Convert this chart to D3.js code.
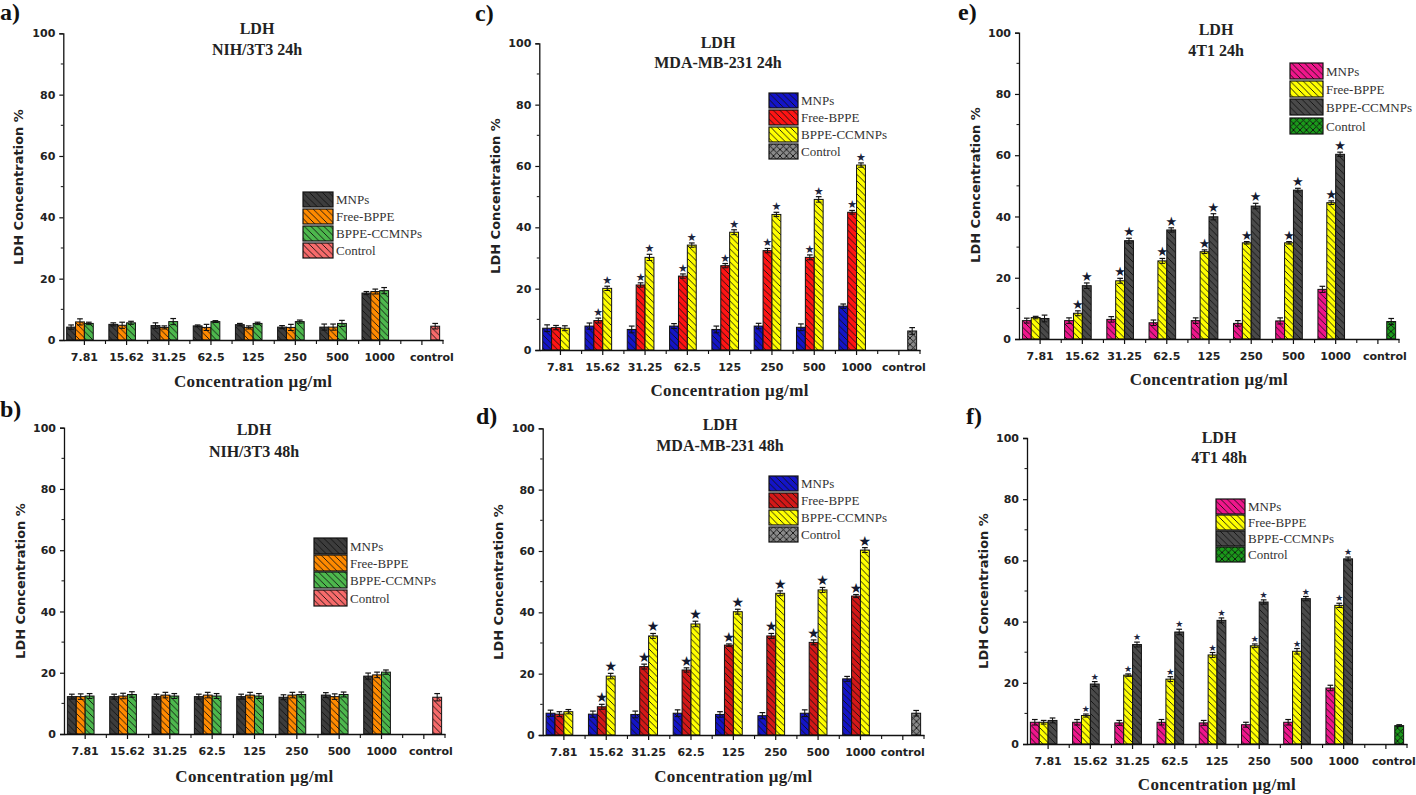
<!DOCTYPE html>
<html><head><meta charset="utf-8">
<script src="https://cdn.jsdelivr.net/npm/d3@7"></script>
<style>body{margin:0;background:#fff}svg{display:block}</style>
</head><body>
<svg id="chart" width="1416" height="795"></svg>
<script>
// ---------- data ----------
const categories = ["7.81","15.62","31.25","62.5","125","250","500","1000","control"];
const seriesNames = ["MNPs","Free-BPPE","BPPE-CCMNPs","Control"];
const yTicks = [0,20,40,60,80,100];
const yMinorTicks = [10,30,50,70,90];
const starCategories = ["15.62","31.25","62.5","125","250","500","1000"];

const a_MNPs = [4.2,5.1,4.7,4.6,5.0,4.2,4.2,15.3];
const a_Free = [5.9,4.8,4.1,4.1,4.1,4.1,4.2,15.8];
const a_BPPE = [5.4,5.6,6.0,6.0,5.4,6.0,5.4,16.1];
const a_Control = [4.5];
const a_MNPs_err = [0.7,0.5,0.9,0.3,0.4,0.5,1.0,0.5];
const a_Free_err = [1.0,1.0,0.5,1.0,0.5,1.0,1.0,0.8];
const a_BPPE_err = [0.4,0.5,1.0,0.3,0.4,0.5,1.0,1.0];
const a_Control_err = [0.9];

const b_MNPs = [12.2,12.2,12.2,12.2,12.2,12.0,12.7,18.9];
const b_Free = [12.2,12.4,12.7,12.7,12.7,12.7,12.2,19.3];
const b_BPPE = [12.4,12.9,12.4,12.4,12.4,12.9,12.9,20.2];
const b_Control = [12.0];
const b_MNPs_err = [0.8,0.8,0.8,0.8,0.8,0.8,0.8,1.0];
const b_Free_err = [0.9,0.9,0.9,0.9,0.9,0.9,0.9,0.9];
const b_BPPE_err = [0.8,0.9,0.8,0.8,0.8,0.8,0.8,0.7];
const b_Control_err = [1.2];

const c_MNPs = [7.1,7.8,6.7,7.8,6.7,7.8,7.4,14.3];
const c_Free = [7.3,9.6,21.2,24.1,27.5,32.4,30.2,44.9];
const c_BPPE = [7.1,20.1,30.2,34.2,38.4,44.2,49.1,60.3];
const c_Control = [6.2];
const c_MNPs_err = [1.1,1.0,1.1,0.8,1.1,0.9,1.1,0.7];
const c_Free_err = [0.7,0.8,0.7,0.7,0.7,0.7,0.8,0.6];
const c_BPPE_err = [0.8,0.7,1.0,0.7,0.8,0.7,0.9,0.7];
const c_Control_err = [1.1];

const d_MNPs = [7.1,6.8,6.7,7.1,6.7,6.3,7.1,18.3];
const d_Free = [6.8,9.2,22.3,21.2,29.3,32.3,30.2,45.3];
const d_BPPE = [7.6,19.2,32.3,36.2,40.2,46.2,47.3,60.3];
const d_Control = [7.1];
const d_MNPs_err = [1.0,1.0,1.1,1.1,0.9,1.0,1.1,0.8];
const d_Free_err = [0.8,0.8,0.8,0.7,0.4,0.8,0.8,0.5];
const d_BPPE_err = [0.7,0.9,0.8,0.9,0.8,0.8,0.8,0.8];
const d_Control_err = [0.9];

const e_MNPs = [6.0,6.0,6.4,5.3,6.0,5.1,5.9,16.2];
const e_Free = [7.0,8.4,19.0,25.5,28.5,31.4,31.4,44.5];
const e_BPPE = [6.7,17.4,32.1,35.6,39.9,43.4,48.6,60.3];
const e_Control = [5.7];
const e_MNPs_err = [0.8,0.9,0.9,0.9,0.9,0.9,1.0,1.0];
const e_Free_err = [0.4,0.8,0.8,0.8,0.6,0.4,0.4,0.6];
const e_BPPE_err = [1.1,0.9,0.8,0.7,1.0,0.9,0.6,0.7];
const e_Control_err = [1.0];

const f_MNPs = [7.1,7.1,6.9,7.1,6.9,6.3,7.1,18.3];
const f_Free = [7.1,9.3,22.5,21.2,29.1,32.1,30.3,45.3];
const f_BPPE = [7.7,19.6,32.5,36.6,40.4,46.4,47.5,60.5];
const f_Control = [6.0];
const f_MNPs_err = [0.9,0.9,0.8,0.9,0.8,0.8,0.9,0.9];
const f_Free_err = [0.6,0.5,0.4,0.8,0.8,0.6,0.9,0.7];
const f_BPPE_err = [0.8,0.8,0.8,0.9,0.8,0.7,0.7,0.6];
const f_Control_err = [0.3];

// ---------- styles / layout ----------
const panels = [
  {id:"a", letter:"a)", sub:"NIH/3T3 24h", data:[a_MNPs,a_Free,a_BPPE], ctrl:a_Control, err:[a_MNPs_err,a_Free_err,a_BPPE_err], ctrlErr:a_Control_err,
   colors:["#3d3d3d","#ff8a00","#4db84d","#f76b6b"], ctrlType:"hatch", stars:false,
   x0:63.3, x1:443, y0:340, y100:33.3, tcx:257, t1:34, t2:55, letterX:0, letterY:20, tickY:361, xtY:387, ytX:23, ytY:187,
   legX:303, legW:30, legY:[192,209,226,243], legH:15, ctrlShift:10},
  {id:"b", letter:"b)", sub:"NIH/3T3 48h", data:[b_MNPs,b_Free,b_BPPE], ctrl:b_Control, err:[b_MNPs_err,b_Free_err,b_BPPE_err], ctrlErr:b_Control_err,
   colors:["#3d3d3d","#ff8a00","#4db84d","#f76b6b"], ctrlType:"hatch", stars:false,
   x0:64, x1:445, y0:734, y100:427.7, tcx:254, t1:435, t2:457, letterX:0, letterY:417, tickY:755, xtY:782, ytX:25, ytY:581,
   legX:314, legW:33, legY:[538,555,572,590], legH:16, ctrlShift:7},
  {id:"c", letter:"c)", sub:"MDA-MB-231 24h", data:[c_MNPs,c_Free,c_BPPE], ctrl:c_Control, err:[c_MNPs_err,c_Free_err,c_BPPE_err], ctrlErr:c_Control_err,
   colors:["#1414c8","#ff1414","#ffff00","#8a8a8a"], ctrlType:"cross", stars:true, starSize:11, starColor:"#1d2640",
   x0:539.3, x1:920, y0:350, y100:43.3, tcx:718, t1:48, t2:68, letterX:475, letterY:21, tickY:371, xtY:396, ytX:500, ytY:196,
   legX:769, legW:29, legY:[93,110,127,144], legH:15, ctrlShift:5},
  {id:"d", letter:"d)", sub:"MDA-MB-231 48h", data:[d_MNPs,d_Free,d_BPPE], ctrl:d_Control, err:[d_MNPs_err,d_Free_err,d_BPPE_err], ctrlErr:d_Control_err,
   colors:["#1414c8","#d41818","#ffff00","#8a8a8a"], ctrlType:"cross", stars:true, starSize:14, starColor:"#141a30",
   x0:542.7, x1:924, y0:735, y100:428.3, tcx:720, t1:430, t2:451, letterX:476, letterY:424, tickY:756, xtY:782, ytX:503, ytY:582,
   legX:769, legW:29, legY:[476,493,510,527], legH:15, ctrlShift:0},
  {id:"e", letter:"e)", sub:"4T1 24h", data:[e_MNPs,e_Free,e_BPPE], ctrl:e_Control, err:[e_MNPs_err,e_Free_err,e_BPPE_err], ctrlErr:e_Control_err,
   colors:["#f0168c","#ffff00","#4a4a4a","#1a9a1a"], ctrlType:"cross", stars:true, starSize:13, starColor:"#141a30",
   x0:1019, x1:1399, y0:339, y100:32.7, tcx:1216, t1:35, t2:56, letterX:958, letterY:20, tickY:360, xtY:385, ytX:980, ytY:185,
   legX:1290, legW:33, legY:[63,81,99,118], legH:16, ctrlShift:7},
  {id:"f", letter:"f)", sub:"4T1 48h", data:[f_MNPs,f_Free,f_BPPE], ctrl:f_Control, err:[f_MNPs_err,f_Free_err,f_BPPE_err], ctrlErr:f_Control_err,
   colors:["#f0168c","#ffff00","#4a4a4a","#1a9a1a"], ctrlType:"cross", stars:true, starSize:9, starColor:"#1d2640",
   x0:1027, x1:1407, y0:744, y100:438, tcx:1219, t1:443, t2:463, letterX:966, letterY:424, tickY:765, xtY:790, ytX:988, ytY:591,
   legX:1216, legW:29, legY:[499,515,531,547], legH:15, ctrlShift:8}
];

const svg = d3.select("#chart");
const defs = svg.append("defs");
const SANS = "'DejaVu Sans', Verdana, sans-serif";
const SERIF = "'Liberation Serif', 'Times New Roman', serif";

function makePattern(id, color, type) {
  const s = 6.5;
  const p = defs.append("pattern").attr("id", id).attr("patternUnits", "userSpaceOnUse")
    .attr("width", s).attr("height", s);
  p.append("rect").attr("width", s).attr("height", s).attr("fill", color);
  let d = `M0,0L${s},${s}M${-s/2},${s/2}L${s/2},${s*1.5}M${s/2},${-s/2}L${s*1.5},${s/2}`;
  if (type === "cross") d += `M${s},0L0,${s}M${s/2},${-s/2}L${-s/2},${s/2}M${s*1.5},${s/2}L${s/2},${s*1.5}`;
  p.append("path").attr("d", d).attr("stroke", "#111").attr("stroke-width", 0.9).attr("fill", "none");
}

panels.forEach(P => {
  const g = svg.append("g");
  P.colors.forEach((c, i) => makePattern(`p_${P.id}_${i}`, c, i === 3 ? P.ctrlType : "hatch"));

  const x = d3.scaleBand().domain(categories).range([P.x0, P.x1]).paddingInner(0).paddingOuter(0);
  const sub = d3.scaleBand().domain(seriesNames).range([0, x.bandwidth()]).paddingInner(0).paddingOuter(0.38);
  const y = d3.scaleLinear().domain([0, 100]).range([P.y0, P.y100]);

  // bars
  const bars = [];
  P.data.forEach((arr, si) => arr.forEach((v, ci) => bars.push({cat: categories[ci], s: seriesNames[si], si, v, e: P.err[si][ci]})));
  P.ctrl.forEach((v, i) => bars.push({cat: "control", s: "Control", si: 3, v, e: P.ctrlErr[i]}));

  g.selectAll("rect.bar").data(bars).join("rect").attr("class", "bar")
    .attr("x", d => x(d.cat) + sub(d.s)).attr("y", d => y(d.v))
    .attr("width", sub.bandwidth()).attr("height", d => y(0) - y(d.v))
    .attr("fill", d => `url(#p_${P.id}_${d.si})`).attr("stroke", "#111").attr("stroke-width", 1);

  // error bars
  const cap = sub.bandwidth() * 0.32;
  const eg = g.selectAll("g.err").data(bars).join("g").attr("class", "err")
    .attr("transform", d => `translate(${x(d.cat) + sub(d.s) + sub.bandwidth() / 2},0)`);
  eg.append("line").attr("y1", d => y(d.v - d.e)).attr("y2", d => y(d.v + d.e)).attr("stroke", "#111").attr("stroke-width", 1);
  eg.append("line").attr("x1", -cap).attr("x2", cap).attr("y1", d => y(d.v + d.e)).attr("y2", d => y(d.v + d.e)).attr("stroke", "#111").attr("stroke-width", 1.2);
  eg.append("line").attr("x1", -cap).attr("x2", cap).attr("y1", d => y(d.v - d.e)).attr("y2", d => y(d.v - d.e)).attr("stroke", "#111").attr("stroke-width", 1);

  // stars
  if (P.stars) {
    const st = bars.filter(b => (b.si === 1 || b.si === 2) && starCategories.includes(b.cat));
    g.selectAll("text.star").data(st).join("text").attr("class", "star")
      .attr("x", d => x(d.cat) + sub(d.s) + sub.bandwidth() / 2)
      .attr("y", d => y(d.v + d.e) - 2)
      .attr("text-anchor", "middle").attr("font-size", P.starSize).attr("font-family", SANS)
      .attr("fill", P.starColor).text("★");
  }

  // axes
  const yAxis = d3.axisLeft(y).tickValues(yTicks).tickSize(4).tickPadding(4).tickFormat(d3.format("d"));
  const ya = g.append("g").attr("transform", `translate(${P.x0},0)`).call(yAxis);
  ya.selectAll("text").attr("font-family", SANS).attr("font-weight", "bold").attr("font-size", 11).attr("fill", "#222");
  ya.select(".domain").attr("stroke", "#111").attr("stroke-width", 1.3);
  ya.selectAll(".tick line").attr("stroke", "#111").attr("stroke-width", 1.2);
  g.selectAll("line.ymin").data(yMinorTicks).join("line").attr("class", "ymin")
    .attr("x1", P.x0 - 2.5).attr("x2", P.x0).attr("y1", d => y(d)).attr("y2", d => y(d)).attr("stroke", "#111");

  const xAxis = d3.axisBottom(x).tickSize(5).tickPadding(6).tickSizeOuter(0);
  const xa = g.append("g").attr("transform", `translate(0,${P.y0})`).call(xAxis);
  xa.select(".domain").attr("stroke", "#111").attr("stroke-width", 1.3);
  xa.selectAll(".tick line").attr("stroke", "#111").attr("stroke-width", 1.2);
  xa.selectAll("text").attr("font-family", SANS).attr("font-weight", "bold").attr("font-size", 11).attr("fill", "#222")
    .attr("dy", null).attr("y", P.tickY - P.y0)
    .attr("dx", d => d === "control" ? P.ctrlShift : 0);
  // minor ticks at band edges
  g.selectAll("line.xmin").data(categories.slice(1)).join("line").attr("class", "xmin")
    .attr("x1", d => x(d)).attr("x2", d => x(d)).attr("y1", P.y0).attr("y2", P.y0 + 4).attr("stroke", "#111").attr("stroke-width", 1.1);
  g.append("line").attr("x1", P.x1).attr("x2", P.x1).attr("y1", P.y0).attr("y2", P.y0 + 4).attr("stroke", "#111").attr("stroke-width", 1.1);

  // titles
  g.append("text").attr("x", P.tcx).attr("y", P.t1).attr("text-anchor", "middle")
    .attr("font-family", SERIF).attr("font-weight", "bold").attr("font-size", 16).attr("fill", "#222").text("LDH");
  g.append("text").attr("x", P.tcx).attr("y", P.t2).attr("text-anchor", "middle")
    .attr("font-family", SERIF).attr("font-weight", "bold").attr("font-size", 16).attr("fill", "#222").text(P.sub);
  g.append("text").attr("x", P.letterX).attr("y", P.letterY)
    .attr("font-family", SERIF).attr("font-weight", "bold").attr("font-size", 24).attr("fill", "#111").text(P.letter);
  g.append("text").attr("x", (P.x0 + P.x1) / 2).attr("y", P.xtY).attr("text-anchor", "middle")
    .attr("font-family", SERIF).attr("font-weight", "bold").attr("font-size", 17).attr("letter-spacing", 0.4).attr("fill", "#222")
    .text("Concentration μg/ml");
  g.append("text").attr("transform", `translate(${P.ytX},${P.ytY}) rotate(-90)`).attr("text-anchor", "middle")
    .attr("font-family", SANS).attr("font-weight", "bold").attr("font-size", 13).attr("fill", "#222")
    .text("LDH Concentration %");

  // legend
  const lg = g.append("g");
  seriesNames.forEach((n, i) => {
    lg.append("rect").attr("x", P.legX).attr("y", P.legY[i]).attr("width", P.legW).attr("height", P.legH)
      .attr("fill", `url(#p_${P.id}_${i})`).attr("stroke", "#111").attr("stroke-width", 1.2);
    lg.append("text").attr("x", P.legX + P.legW + 3).attr("y", P.legY[i] + P.legH - 3)
      .attr("font-family", SERIF).attr("font-size", 13).attr("fill", "#333").text(n);
  });
});
</script>
</body></html>
